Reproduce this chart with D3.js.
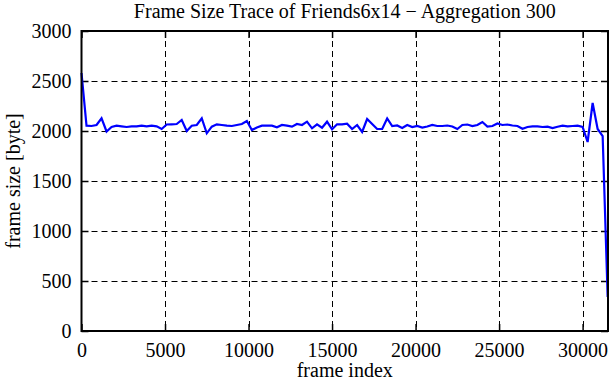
<!DOCTYPE html>
<html>
<head>
<meta charset="utf-8">
<script src="https://cdn.jsdelivr.net/npm/d3@7"></script>
<style>
  html, body { margin: 0; padding: 0; background: #fff; }
  svg { display: block; }
  text { font-family: "Liberation Serif", "Times New Roman", serif; fill: #000; }
</style>
</head>
<body>
<svg id="chart" width="611" height="380"></svg>
<script>
const titleText = "Frame Size Trace of Friends6x14 \u2212 Aggregation 300";
const xLabel = "frame index";
const yLabel = "frame size [byte]";
const xTicks = [0, 5000, 10000, 15000, 20000, 25000, 30000];
const yTicks = [0, 500, 1000, 1500, 2000, 2500, 3000];
const frameIndex = [
  0, 300, 600, 900, 1200, 1500, 1800, 2100, 2400, 2700,
  3000, 3300, 3600, 3900, 4200, 4500, 4800, 5100, 5400, 5700,
  6000, 6300, 6600, 6900, 7200, 7500, 7800, 8100, 8400, 8700,
  9000, 9300, 9600, 9900, 10200, 10500, 10800, 11100, 11400, 11700,
  12000, 12300, 12600, 12900, 13200, 13500, 13800, 14100, 14400, 14700,
  15000, 15300, 15600, 15900, 16200, 16500, 16800, 17100, 17400, 17700,
  18000, 18300, 18600, 18900, 19200, 19500, 19800, 20100, 20400, 20700,
  21000, 21300, 21600, 21900, 22200, 22500, 22800, 23100, 23400, 23700,
  24000, 24300, 24600, 24900, 25200, 25500, 25800, 26100, 26400, 26700,
  27000, 27300, 27600, 27900, 28200, 28500, 28800, 29100, 29400, 29700,
  30000, 30300, 30600, 30900, 31200, 31500
];
const frameSize = [
  2580, 2053, 2050, 2060, 2127, 1995, 2040, 2053, 2047, 2040,
  2047, 2047, 2053, 2047, 2053, 2047, 2020, 2065, 2067, 2070,
  2110, 2000, 2053, 2060, 2127, 1977, 2043, 2067, 2060, 2053,
  2050, 2060, 2070, 2100, 2010, 2035, 2053, 2053, 2053, 2037,
  2060, 2053, 2043, 2070, 2060, 2093, 2027, 2067, 2033, 2093,
  2017, 2067, 2067, 2073, 2020, 2060, 1990, 2120, 2070, 2020,
  2020, 2125, 2050, 2055, 2030, 2060, 2040, 2050, 2035, 2045,
  2060, 2050, 2050, 2055, 2045, 2020, 2060, 2065, 2050, 2060,
  2090, 2045, 2050, 2075, 2060, 2065, 2055, 2050, 2022, 2040,
  2047, 2047, 2040, 2043, 2030, 2043, 2053, 2047, 2050, 2053,
  2040, 1890, 2280, 2020, 1950, 340
];
const xMax = 31520;
const fontSize = 20;

const svg = d3.select("#chart");
const L = 81.5, R = 608, T = 31, B = 331;
const x = d3.scaleLinear().domain([0, xMax]).range([L, R]);
const y = d3.scaleLinear().domain([0, 3000]).range([B, T]);

// grid
const grid = svg.append("g").attr("stroke", "#000").attr("stroke-width", 1)
  .attr("stroke-dasharray", "6,4").attr("fill", "none");
xTicks.filter(d => d > 0).forEach(d => {
  grid.append("line").attr("x1", Math.round(x(d)) + 0.5).attr("x2", Math.round(x(d)) + 0.5)
    .attr("y1", T).attr("y2", B);
});
yTicks.filter(d => d > 0 && d < 3000).forEach(d => {
  grid.append("line").attr("y1", Math.round(y(d)) + 0.5).attr("y2", Math.round(y(d)) + 0.5)
    .attr("x1", L).attr("x2", R);
});

// axes (inside ticks, mirrored)
const tick = 7;
const axB = svg.append("g").attr("transform", `translate(0,${B})`)
  .call(d3.axisBottom(x).tickValues(xTicks).tickFormat(d3.format("d"))
    .tickSizeInner(-tick).tickSizeOuter(0).tickPadding(12));
const axT = svg.append("g").attr("transform", `translate(0,${T})`)
  .call(d3.axisTop(x).tickValues(xTicks).tickFormat("")
    .tickSizeInner(-tick).tickSizeOuter(0));
const axL = svg.append("g").attr("transform", `translate(${L},0)`)
  .call(d3.axisLeft(y).tickValues(yTicks).tickFormat(d3.format("d"))
    .tickSizeInner(-tick).tickSizeOuter(0).tickPadding(10));
const axR = svg.append("g").attr("transform", `translate(${R},0)`)
  .call(d3.axisRight(y).tickValues(yTicks).tickFormat("")
    .tickSizeInner(-tick).tickSizeOuter(0));
[axB, axT, axL, axR].forEach(a => {
  a.select(".domain").remove();
  a.selectAll(".tick line").attr("stroke", "#000").attr("stroke-width", 1.5);
  a.selectAll("text").attr("font-family", "Liberation Serif").attr("font-size", fontSize).attr("fill", "#000");
});

// line
const pts = frameIndex.map((f, i) => [f, frameSize[i]]);
svg.append("path").datum(pts)
  .attr("fill", "none").attr("stroke", "#0000ff").attr("stroke-width", 2.2)
  .attr("stroke-linejoin", "miter")
  .attr("d", d3.line().x(d => x(d[0])).y(d => y(d[1])));

// border
svg.append("rect").attr("x", L).attr("y", T).attr("width", R - L).attr("height", B - T)
  .attr("fill", "none").attr("stroke", "#000").attr("stroke-width", 2);

// texts
svg.append("text").attr("x", (L + R) / 2).attr("y", 18).attr("text-anchor", "middle")
  .attr("font-size", fontSize).text(titleText);
svg.append("text").attr("x", (L + R) / 2).attr("y", 377).attr("text-anchor", "middle")
  .attr("font-size", fontSize).text(xLabel);
svg.append("text").attr("transform", `translate(20,${(T + B) / 2}) rotate(-90)`)
  .attr("text-anchor", "middle").attr("font-size", fontSize).text(yLabel);
</script>
</body>
</html>
